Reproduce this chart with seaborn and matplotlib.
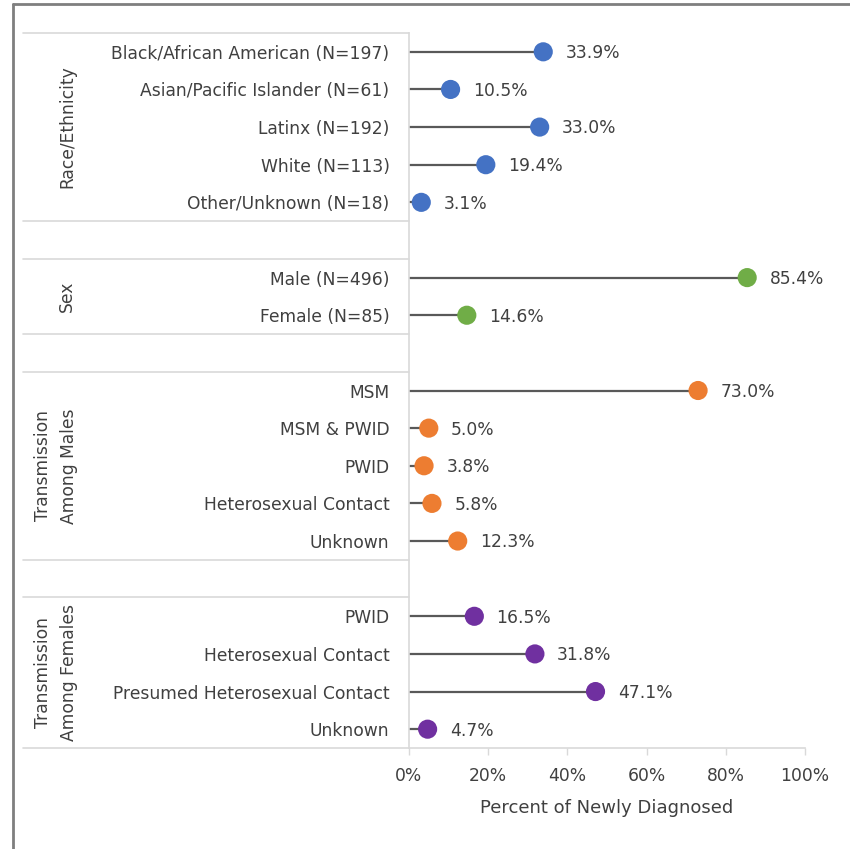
import numpy as np
import matplotlib
matplotlib.use("Agg")
import matplotlib.pyplot as plt
import matplotlib.transforms as mtransforms
from matplotlib.lines import Line2D
import seaborn as sns
import pandas as pd

# ── Data ──────────────────────────────────────────────────────────────────────
race_labels = ["Black/African American (N=197)", "Asian/Pacific Islander (N=61)",
               "Latinx (N=192)", "White (N=113)", "Other/Unknown (N=18)"]
race_values = [33.9, 10.5, 33.0, 19.4, 3.1]

sex_labels = ["Male (N=496)", "Female (N=85)"]
sex_values = [85.4, 14.6]

male_labels = ["MSM", "MSM & PWID", "PWID", "Heterosexual Contact", "Unknown"]
male_values = [73.0, 5.0, 3.8, 5.8, 12.3]

female_labels = ["PWID", "Heterosexual Contact", "Presumed Heterosexual Contact", "Unknown"]
female_values = [16.5, 31.8, 47.1, 4.7]

group_names = ["Race/Ethnicity", "Sex", "Transmission\nAmong Males", "Transmission\nAmong Females"]
group_colors = ["#4472C4", "#70AD47", "#ED7D31", "#7030A0"]

x_ticks = [0, 20, 40, 60, 80, 100]
x_label = "Percent of Newly Diagnosed"

# ── Build table (one blank row between groups) ───────────────────────────────
groups = [(race_labels, race_values), (sex_labels, sex_values),
          (male_labels, male_values), (female_labels, female_values)]
rows = []
pos = 0
group_spans = []
for g, (labs, vals) in enumerate(groups):
    start = pos
    for lab, val in zip(labs, vals):
        rows.append({"label": lab, "value": val, "group": group_names[g], "pos": pos})
        pos += 1
    group_spans.append((start, pos - 1))
    pos += 1  # gap row
n_rows = pos - 1
df = pd.DataFrame(rows)

# ── Plot ──────────────────────────────────────────────────────────────────────
sns.set_style("white")
plt.rcParams["font.family"] = ["DejaVu Sans"]
text_col = "#404040"
grid_col = "#D9D9D9"
fs = 12.3

fig = plt.figure(figsize=(8.5, 8.49), dpi=100)
ax = fig.add_axes([409 / 850, 1 - 748 / 849, 396 / 850, (748 - 33) / 849])

ax.hlines(df["pos"], 0, df["value"], color="#595959", linewidth=1.6, zorder=1)
sns.scatterplot(data=df, x="value", y="pos", hue="group", palette=group_colors,
                s=190, edgecolor="none", legend=False, ax=ax, zorder=3)

for _, r in df.iterrows():
    ax.annotate(f"{r['value']:.1f}%", (r["value"], r["pos"]), xytext=(16, -1),
                textcoords="offset points", va="center", ha="left",
                fontsize=fs, color=text_col)

ax.set_xlim(0, 100)
ax.set_ylim(n_rows - 0.5, -0.5)
ax.set_xticks(x_ticks)
ax.set_xticklabels([f"{t}%" for t in x_ticks], fontsize=fs, color=text_col)
ax.set_yticks(df["pos"])
ax.set_yticklabels(df["label"], fontsize=fs, color=text_col)
ax.tick_params(axis="y", length=0, pad=14)
ax.tick_params(axis="x", length=5, width=1, color=grid_col, pad=9, bottom=True)
ax.set_xlabel(x_label, fontsize=13, color=text_col, labelpad=10)
ax.set_ylabel("")

for side in ["top", "right"]:
    ax.spines[side].set_visible(False)
for side in ["left", "bottom"]:
    ax.spines[side].set_color(grid_col)
    ax.spines[side].set_linewidth(1.2)

# group separators extending left of the axis
trans = mtransforms.blended_transform_factory(ax.transAxes, ax.transData)
x_left = (23 - 409) / 396
seps = [-0.5]
for s, e in group_spans:
    seps += [e + 0.5, e + 1.5]
seps = seps[:-1]
for y in seps:
    ax.add_line(Line2D([x_left, 0], [y, y], transform=trans, color=grid_col,
                       linewidth=1.2, clip_on=False))

for name, (s, e) in zip(group_names, group_spans):
    xg = (56 - 409) / 396 if "\n" in name else (67 - 409) / 396
    ax.text(xg, (s + e) / 2, name, transform=trans, rotation=90,
            ha="center", va="center", fontsize=fs, color=text_col,
            linespacing=1.5, multialignment="center")

# outer frame
fig.add_artist(Line2D([13 / 850, 13 / 850], [0, 1 - 4 / 849], transform=fig.transFigure,
                      color="#7F7F7F", linewidth=2))
fig.add_artist(Line2D([13 / 850, 1], [1 - 4 / 849, 1 - 4 / 849], transform=fig.transFigure,
                      color="#7F7F7F", linewidth=2))

fig.savefig("out.png", dpi=100)
